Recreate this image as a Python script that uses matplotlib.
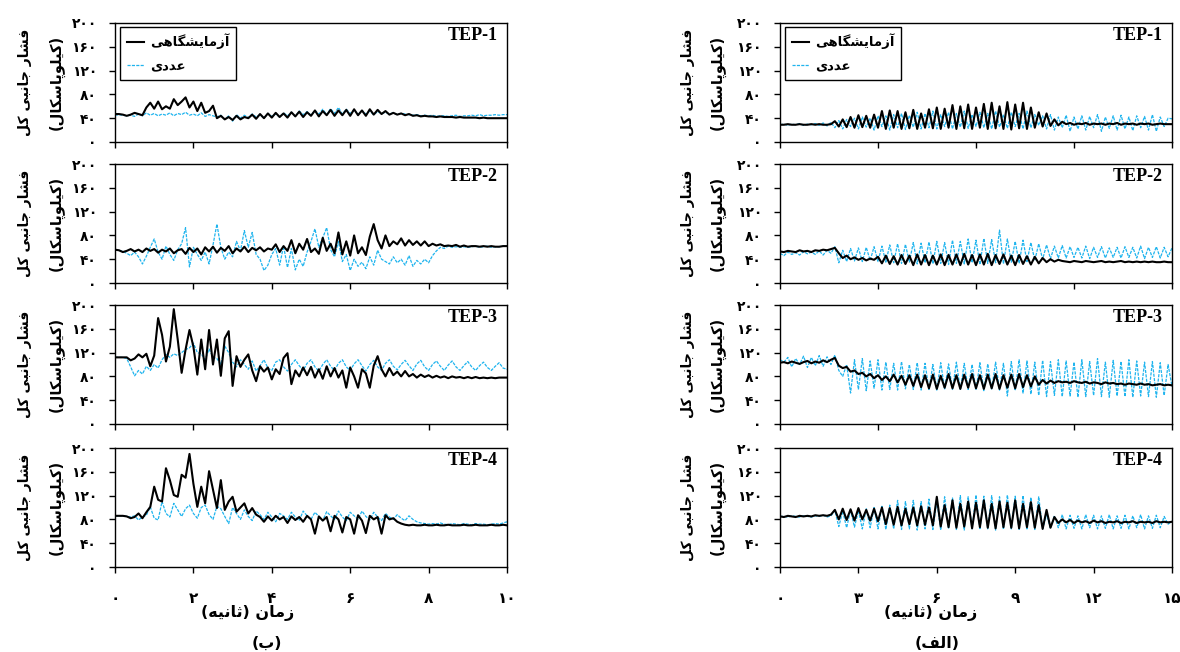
import matplotlib
matplotlib.use("Agg")
import matplotlib.pyplot as plt
from matplotlib.lines import Line2D
import numpy as np

plt.rcParams['font.family'] = ['DejaVu Sans']

# زمان (ثانیه) - نمونه برداری یکنواخت
t_b = np.linspace(0, 10, 101)   # ستون (ب)
t_a = np.linspace(0, 15, 101)   # ستون (الف)

# ---------------- ستون (ب) : 0..10 s ----------------
b1_lab = [47,47,46,44,46,49,47,45,58,66, 56,68,55,60,56,72,62,68,75,58,
          68,52,66,49,52,61,40,44,38,42, 37,44,38,42,40,46,39,47,40,48,
          41,49,42,48,41,50,43,51,42,50, 44,53,43,52,45,54,44,53,45,54,
          44,55,45,53,44,55,46,54,47,52, 46,49,46,48,45,47,44,45,43,44,
          43,43,42,43,42,42,42,41,42,41, 41,41,41,40,41,40,40,40,40,40, 40]
b1_num = [45,46,45,44,45,43,47,44,49,45, 48,44,47,45,49,44,48,46,50,45,
          47,44,49,43,46,44,42,45,38,44, 35,46,40,45,41,47,42,46,40,48,
          43,47,42,49,44,50,43,52,46,51, 45,53,47,55,46,56,48,58,47,55,
          48,54,46,53,47,52,46,51,48,50, 47,49,46,48,47,46,45,46,44,45,
          44,45,43,44,44,43,44,45,43,44, 44,45,44,46,44,45,45,46,45,46, 46]

b2_lab = [56,55,52,54,57,53,56,52,58,54, 57,51,56,53,58,50,55,57,49,59,
          52,58,48,60,53,61,51,59,54,62, 50,58,53,61,52,59,55,60,53,58,
          56,65,52,62,54,72,50,66,56,74, 52,58,49,76,54,66,50,85,48,70,
          46,80,50,60,47,78,99,72,58,80, 62,70,65,75,63,72,64,70,63,70,
          62,66,63,65,62,63,62,64,61,63, 61,62,62,61,62,61,62,61,61,62, 62]
b2_num = [56,55,53,50,46,52,44,32,45,60, 74,52,40,62,48,38,56,66,93,27,
          60,48,38,52,32,64,99,60,40,52, 44,70,54,88,60,85,48,40,21,30,
          48,58,30,62,26,58,22,40,28,52, 70,91,60,76,93,56,44,70,36,48,
          21,40,28,35,24,44,30,55,40,36, 32,44,34,40,30,46,28,38,32,40,
          34,46,54,60,58,62,60,61,60,61, 60,61,62,60,61,62,60,61,61,62, 62]

b3_lab = [112,112,112,112,107,110,117,112,118,97, 115,178,150,105,130,193,142,86,125,158,
          130,83,142,92,158,100,142,81,144,156, 64,114,96,108,117,90,72,97,88,95,
          75,92,84,111,119,67,90,80,95,82, 96,78,92,76,97,80,94,78,90,61,
          95,80,61,92,85,61,98,114,92,80, 94,82,88,80,89,80,84,78,83,79,
          82,78,81,78,80,77,80,78,79,77, 79,77,79,77,78,77,78,77,78,78, 78]
b3_num = [112,112,112,110,96,81,90,84,97,90, 100,94,108,117,112,118,115,120,125,128,
          136,120,118,108,126,112,110,100,131,120, 104,96,108,100,92,106,89,98,108,94,
          90,104,108,96,89,100,108,98,90,102, 108,96,89,100,108,97,90,102,108,96,
          90,101,108,98,89,100,107,96,90,102, 108,97,91,100,107,98,90,101,107,96,
          90,100,106,97,90,99,106,96,90,98, 105,96,90,98,104,95,90,97,103,94, 92]

b4_lab = [86,86,86,85,82,84,90,82,92,101, 135,113,110,166,146,121,118,155,150,190,
          140,101,135,107,161,130,99,146,96,110, 118,93,100,107,90,99,88,84,76,85,
          78,86,80,84,74,85,79,84,76,86, 80,56,85,78,84,60,86,80,58,84,
          80,56,87,78,57,86,80,84,56,87, 80,82,76,73,71,70,71,70,70,71,
          70,70,71,70,70,71,70,70,70,71, 70,70,71,70,70,70,71,70,70,71, 70]
b4_num = [86,86,86,85,84,86,79,84,87,101, 82,79,110,90,84,107,96,85,98,104,
          90,82,100,104,88,80,102,98,85,73, 100,90,80,96,85,78,94,88,80,92,
          84,76,90,86,80,92,84,78,94,86, 80,92,85,78,93,86,80,94,84,78,
          92,86,80,94,85,79,92,84,78,90, 84,80,88,82,78,86,80,76,74,73,
          72,73,72,74,72,71,73,72,71,73, 72,71,73,72,72,71,72,73,72,74, 76]

# ---------------- ستون (الف) : 0..15 s ----------------
a1_lab = [29,29,30,29,29,30,29,29,30,29,30,29,29,30,
          35,26,38,25,42,24,45,25,44,24,46,24,52,
          22,53,24,52,22,50,23,54,22,48,
          24,55,23,58,22,56,24,62,22,60,23,63,22,58,24,64,
          22,66,23,60,22,67,21,63,23,66,22,58,24,50,
          26,48,27,38,28,34,
          30,32,29,31,30,32,29,31,30,31,29,31,30,32,29,31,30,31,29,31,30,31,29,30,31,30,30,30]
a1_num = [29,30,28,30,29,31,28,30,29,31,28,32,27,33,
          24,36,22,38,26,40,22,42,25,40,20,44,26,
          44,20,46,24,48,21,45,25,50,22,
          48,24,52,22,46,26,50,22,48,25,52,23,46,26,50,24,
          48,22,52,25,46,23,50,26,48,22,52,24,46,28,
          44,22,46,20,42,24,
          45,18,42,22,44,20,43,24,46,18,42,23,44,20,45,22,42,19,44,24,43,20,46,18,42,26,40,39]

a2_lab = [53,52,54,53,52,55,53,54,52,55,54,56,55,57,
          59,50,42,46,40,43,39,42,38,41,39,44,33,
          46,32,45,31,47,32,46,30,48,31,
          47,30,46,31,48,30,47,31,48,30,49,31,47,30,48,31,
          49,30,47,32,48,31,46,30,47,32,45,31,44,33,
          42,35,40,36,39,37,
          36,35,37,36,35,37,36,35,36,37,35,36,35,36,37,35,36,35,36,35,36,35,36,35,35,36,35,35]
a2_num = [50,46,52,48,51,47,53,49,52,48,54,47,55,50,
          61,34,55,36,58,37,59,36,60,38,61,36,62,
          35,64,34,66,33,65,35,68,32,67,
          34,69,32,70,33,68,31,72,33,70,32,74,34,72,31,75,
          33,73,34,89,32,74,35,70,33,72,36,68,38,66,
          40,64,41,62,42,63,
          42,61,43,60,42,62,41,60,43,61,42,59,43,60,42,61,43,60,42,62,41,60,43,61,42,60,44,59]

a3_lab = [103,104,102,105,103,101,104,106,102,105,103,107,104,108,
          111,98,94,96,88,90,84,86,80,84,77,82,74,
          80,72,83,70,81,66,82,64,83,62,
          82,60,83,59,81,61,84,60,82,59,83,61,84,60,82,59,
          83,60,84,59,82,61,83,60,84,62,82,63,80,66,
          74,68,73,69,72,70,
          71,69,72,70,69,71,68,70,69,67,70,68,69,67,68,66,68,67,66,68,66,67,65,66,67,65,66,65]
a3_num = [108,104,112,96,110,100,114,95,112,98,115,97,113,100,
          116,90,80,100,52,108,58,110,56,106,60,108,57,
          104,58,102,57,105,59,100,58,103,57,
          102,58,100,57,103,59,101,58,104,57,102,58,100,57,103,56,
          101,58,104,57,102,47,105,56,108,52,106,50,104,48,
          107,46,105,48,108,46,
          106,47,104,45,108,46,105,48,110,46,104,45,107,47,105,46,108,45,106,47,104,46,105,45,103,48,100,63]

a4_lab = [85,84,86,85,84,86,85,86,85,87,86,87,86,88,
          96,80,98,79,97,78,99,80,96,78,98,77,100,
          72,99,71,101,70,98,72,100,70,102,
          71,100,70,118,68,104,67,112,66,106,68,110,65,108,67,112,
          66,106,65,110,67,108,66,112,65,106,67,109,66,104,
          64,96,66,84,74,80,
          75,79,74,78,75,77,74,78,75,77,74,76,75,77,74,76,75,77,74,76,75,76,74,77,75,76,75,76]
a4_num = [85,85,84,86,85,84,86,85,84,86,85,87,84,86,
          95,68,94,66,96,67,95,64,98,66,100,64,102,
          63,104,64,112,63,110,64,112,62,110,
          64,114,63,112,62,118,64,116,63,120,62,118,64,121,63,119,
          64,120,62,118,63,121,64,119,62,120,64,117,63,118,
          64,88,65,86,66,88,
          64,87,65,86,64,88,66,87,64,86,65,88,64,86,65,87,64,86,66,88,64,86,65,87,66,85,72,77]

panel_names = ['TEP-1', 'TEP-2', 'TEP-3', 'TEP-4']
y_ticks = [0, 40, 80, 120, 160, 200]
xt_b = [0, 2, 4, 6, 8, 10]
xt_a = [0, 3, 6, 9, 12, 15]
xt_a_upper = [0, 3.75, 7.5, 11.25, 15]

BLACK = 'black'
CYAN = '#1fb4ee'
CYAN_LS = (0, (2.5, 1.0))

# ---- شکل دهی ساده حروف فارسی (matplotlib راست به چپ نمی نویسد) ----
FORMS = {
    'ا': ('\uFE8D', '\uFE8E', None, None), 'آ': ('\uFE81', '\uFE82', None, None),
    'ب': ('\uFE8F', '\uFE90', '\uFE91', '\uFE92'), 'پ': ('\uFB56', '\uFB57', '\uFB58', '\uFB59'),
    'ت': ('\uFE95', '\uFE96', '\uFE97', '\uFE98'), 'ث': ('\uFE99', '\uFE9A', '\uFE9B', '\uFE9C'),
    'ج': ('\uFE9D', '\uFE9E', '\uFE9F', '\uFEA0'), 'د': ('\uFEA9', '\uFEAA', None, None),
    'ر': ('\uFEAD', '\uFEAE', None, None), 'ز': ('\uFEAF', '\uFEB0', None, None),
    'س': ('\uFEB1', '\uFEB2', '\uFEB3', '\uFEB4'), 'ش': ('\uFEB5', '\uFEB6', '\uFEB7', '\uFEB8'),
    'ع': ('\uFEC9', '\uFECA', '\uFECB', '\uFECC'), 'ف': ('\uFED1', '\uFED2', '\uFED3', '\uFED4'),
    'ک': ('\uFB8E', '\uFB8F', '\uFB90', '\uFB91'), 'گ': ('\uFB92', '\uFB93', '\uFB94', '\uFB95'),
    'ل': ('\uFEDD', '\uFEDE', '\uFEDF', '\uFEE0'), 'م': ('\uFEE1', '\uFEE2', '\uFEE3', '\uFEE4'),
    'ن': ('\uFEE5', '\uFEE6', '\uFEE7', '\uFEE8'), 'ه': ('\uFEE9', '\uFEEA', '\uFEEB', '\uFEEC'),
    'و': ('\uFEED', '\uFEEE', None, None), 'ی': ('\uFBFC', '\uFBFD', '\uFBFE', '\uFBFF'),
}


def fa(s):
    out = []
    for i, c in enumerate(s):
        if c not in FORMS:
            out.append(c)
            continue
        prev = s[i - 1] if i > 0 else ''
        nxt = s[i + 1] if i + 1 < len(s) else ''
        jp = prev in FORMS and FORMS[prev][2] is not None
        jn = FORMS[c][2] is not None and nxt in FORMS
        iso, fin, ini, med = FORMS[c]
        if jp and jn:
            out.append(med)
        elif jp:
            out.append(fin)
        elif jn:
            out.append(ini)
        else:
            out.append(iso)
    vis = ''.join(reversed(out))
    return vis.translate(str.maketrans('()', ')('))


def fa_num(v):
    s = ('%g' % v)
    return s.translate(str.maketrans('0123456789', '۰۱۲۳۴۵۶۷۸۹'))


W, H = 1180, 652
fig = plt.figure(figsize=(W / 100, H / 100), dpi=100)

cols = [
    dict(x0=115, t=t_b, xmax=10, lab=[b1_lab, b2_lab, b3_lab, b4_lab],
         num=[b1_num, b2_num, b3_num, b4_num], xt=xt_b, xt_up=xt_b,
         ylx=(25, 57), xl=248, sub=fa('(ب)'), subx=267),
    dict(x0=780, t=t_a, xmax=15, lab=[a1_lab, a2_lab, a3_lab, a4_lab],
         num=[a1_num, a2_num, a3_num, a4_num], xt=xt_a, xt_up=xt_a_upper,
         ylx=(688, 718), xl=931, sub=fa('(الف)'), subx=937),
]
row_tops = [23, 164, 305, 448]
ax_w, ax_h = 392, 119

for c in cols:
    for r in range(4):
        top = row_tops[r]
        ax = fig.add_axes([c['x0'] / W, 1 - (top + ax_h) / H, ax_w / W, ax_h / H])
        ax.plot(c['t'], c['num'][r], color=CYAN, lw=0.9, ls=CYAN_LS, zorder=2)
        ax.plot(c['t'], c['lab'][r], color=BLACK, lw=1.5, zorder=3)
        ax.set_xlim(0, c['xmax'])
        ax.set_ylim(0, 200)
        ax.set_yticks(y_ticks)
        ax.set_yticklabels([fa_num(v) for v in y_ticks], fontweight='bold', fontsize=10)
        if r == 3:
            ax.set_xticks(c['xt'])
            ax.set_xticklabels([fa_num(v) for v in c['xt']], fontweight='bold', fontsize=11)
        else:
            ax.set_xticks(c['xt_up'])
            ax.set_xticklabels([])
        ax.tick_params(direction='out', length=4, width=1, pad=9, axis='y')
        ax.tick_params(direction='out', length=4, width=1, pad=13, axis='x')
        for sp in ax.spines.values():
            sp.set_linewidth(1.0)
        ax.text(0.977, 0.895, panel_names[r], transform=ax.transAxes, ha='right', va='center',
                fontfamily='Liberation Serif', fontweight='bold', fontsize=13)
        if r == 0:
            handles = [Line2D([], [], color=BLACK, lw=1.5),
                       Line2D([], [], color=CYAN, lw=0.9, ls=CYAN_LS)]
            leg = ax.legend(handles, [fa('آزمایشگاهی'), fa('عددی')], loc='upper left',
                            bbox_to_anchor=(0.013, 0.966), borderaxespad=0, fancybox=False,
                            framealpha=1, edgecolor='black', fontsize=9.5, handlelength=1.3,
                            labelspacing=0.8, borderpad=0.5, handletextpad=0.5)
            leg.get_frame().set_linewidth(1.0)
            for txt in leg.get_texts():
                txt.set_fontweight('bold')
        yc = 1 - (top + ax_h / 2) / H
        fig.text(c['ylx'][0] / W, yc, fa('فشار جانبی کل'), rotation=90, ha='center', va='center',
                 fontsize=10, fontweight='bold')
        fig.text(c['ylx'][1] / W, yc, fa('(کیلوپاسکال)'), rotation=90, ha='center', va='center',
                 fontsize=10.5, fontweight='bold')
    fig.text(c['xl'] / W, 1 - 613 / H, fa('زمان (ثانیه)'), ha='center', va='center',
             fontsize=11.5, fontweight='bold')
    fig.text(c['subx'] / W, 1 - 643 / H, c['sub'], ha='center', va='center',
             fontsize=11.5, fontweight='bold')

fig.savefig('out.png', dpi=100)
